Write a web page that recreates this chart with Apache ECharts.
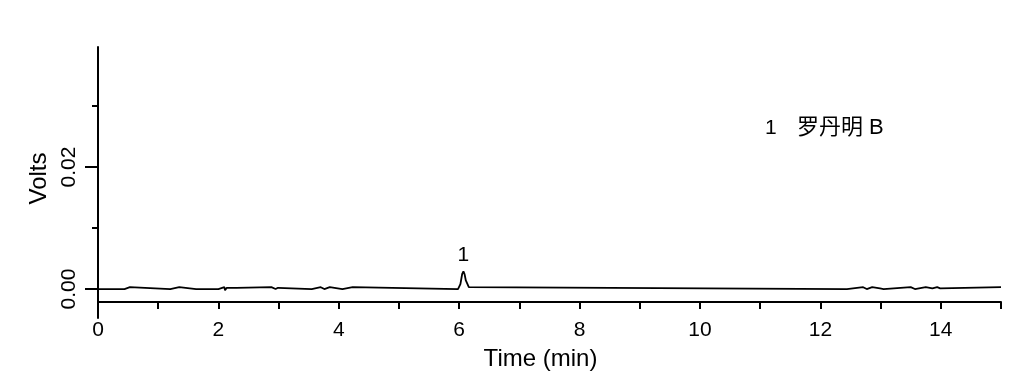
<!DOCTYPE html>
<html>
<head>
<meta charset="utf-8">
<script src="https://cdn.jsdelivr.net/npm/echarts@6/dist/echarts.min.js"></script>
<style>
html,body{margin:0;padding:0;background:#fff;}
#chart{width:1028px;height:384px;}
</style>
</head>
<body>
<div id="chart"></div>
<script>
// ---- data ----
var times = [0, 0.44, 0.45, 0.53, 0.54, 1.2, 1.21, 1.35, 1.36, 1.63, 1.64, 1.66, 1.67,
  2.0, 2.01, 2.1, 2.11, 2.13, 2.14, 2.3, 2.31, 2.88, 2.89, 2.95, 2.96, 2.99, 3.0, 3.02, 3.03,
  3.55, 3.56, 3.7, 3.71, 3.76, 3.77, 3.85, 3.86, 4.06, 4.07, 4.23, 4.24,
  5.98, 6.02, 6.05, 6.07, 6.09, 6.11, 6.13, 6.16, 6.19,
  12.44, 12.45, 12.71, 12.72, 12.77, 12.78, 12.86, 12.87, 12.99, 13.0, 13.05, 13.06,
  13.5, 13.51, 13.57, 13.58, 13.75, 13.76, 13.86, 13.87, 13.94, 13.95, 13.99, 14.0, 15.0];
var volts = [0, 0, 0.0003, 0.0003, 0, 0, 0.0003, 0.0003, 0, 0, 0.0003, 0.0003, 0,
  0, 0.0003, 0.0003, -0.0002, -0.0002, 0.0002, 0.0002, 0.0003, 0.0003, 0, 0, 0.0002, 0.0002, 0, 0, 0,
  0, 0.0003, 0.0003, 0, 0, 0.0003, 0.0003, 0, 0, 0.0003, 0.0003, 0,
  0, 0.0008, 0.0025, 0.0029, 0.0024, 0.0014, 0.0012, 0.0003, 0,
  0, 0.0003, 0.0003, 0, 0, 0.0003, 0.0003, 0.0001, 0.0001, 0, 0, 0.0003,
  0.0003, 0, 0, 0.0003, 0.0003, 0.0001, 0.0001, 0.0003, 0.0003, 0.0001, 0.0001, 0.0003, 0.0003];
var peakLabels = [{ time: 6.07, volt: 0.0029, text: '1' }];
var legendNumber = '1';
var legendName = '罗丹明 B';
var xTicks = [0, 2, 4, 6, 8, 10, 12, 14];
var yMajorTicks = [0, 0.02];
var yMinorTicks = [0.01, 0.03];

// ---- chart ----
var seriesData = times.map(function (t, i) { return [t, volts[i]]; });

var font = 'Liberation Sans, Arial, sans-serif';
var yMin = -0.00475, yMax = 0.03968;

var chart = echarts.init(document.getElementById('chart'), null, { renderer: 'canvas' });
chart.setOption({
  animation: false,
  backgroundColor: '#fff',
  title: [{
    text: legendNumber,
    left: 765, top: 118, padding: 0,
    textStyle: { fontSize: 21, fontWeight: 'normal', color: '#000', fontFamily: font }
  }, {
    text: legendName,
    left: 797, top: 117, padding: 0,
    textStyle: { fontSize: 22, fontWeight: 'normal', color: '#000',
      fontFamily: 'Liberation Sans, Noto Sans CJK SC, sans-serif' }
  }],
  grid: { left: 98, right: 27, top: 47, bottom: 66, containLabel: false },
  xAxis: {
    type: 'value', min: 0, max: 15, interval: 1, offset: -16,
    name: 'Time (min)', nameLocation: 'middle', nameGap: 45,
    nameTextStyle: { fontSize: 24, color: '#000', fontFamily: font, padding: [0, 18, 0, 0] },
    axisLine: { show: true, onZero: false, lineStyle: { color: '#000', width: 2 } },
    axisTick: { show: true, length: 7, lineStyle: { color: '#000', width: 2 } },
    axisLabel: {
      fontSize: 21, color: '#000', fontFamily: font, margin: 18,
      formatter: function (v) { return xTicks.indexOf(v) >= 0 ? String(v) : ''; }
    },
    splitLine: { show: false }
  },
  yAxis: [{
    type: 'value', min: yMin, max: yMax, position: 'left',
    name: 'Volts', nameLocation: 'middle', nameGap: 46,
    nameTextStyle: { fontSize: 24, color: '#000', fontFamily: font, padding: [0, 0, 0, 8] },
    axisLine: { show: true, lineStyle: { color: '#000', width: 2 } },
    axisTick: { show: true, length: 13, customValues: yMajorTicks, lineStyle: { color: '#000', width: 2 } },
    axisLabel: {
      show: true, customValues: yMajorTicks, rotate: 90, margin: 18,
      fontSize: 21, color: '#000', fontFamily: font,
      formatter: function (v) { return v.toFixed(2); }
    },
    splitLine: { show: false }
  }, {
    type: 'value', min: yMin, max: yMax, position: 'left',
    axisLine: { show: false },
    axisTick: { show: true, length: 6, customValues: yMinorTicks, lineStyle: { color: '#000', width: 2 } },
    axisLabel: { show: false },
    splitLine: { show: false }
  }],
  series: [{
    type: 'line',
    data: seriesData,
    showSymbol: false,
    symbol: 'none',
    smooth: false,
    lineStyle: { color: '#000', width: 1.8 },
    markPoint: {
      symbol: 'circle', symbolSize: 0,
      label: { show: true, position: 'top', distance: 6, fontSize: 21, color: '#000', fontFamily: font,
        formatter: function (p) { return p.name; } },
      data: peakLabels.map(function (p) { return { name: p.text, coord: [p.time, p.volt] }; })
    }
  }]
});
</script>
</body>
</html>
